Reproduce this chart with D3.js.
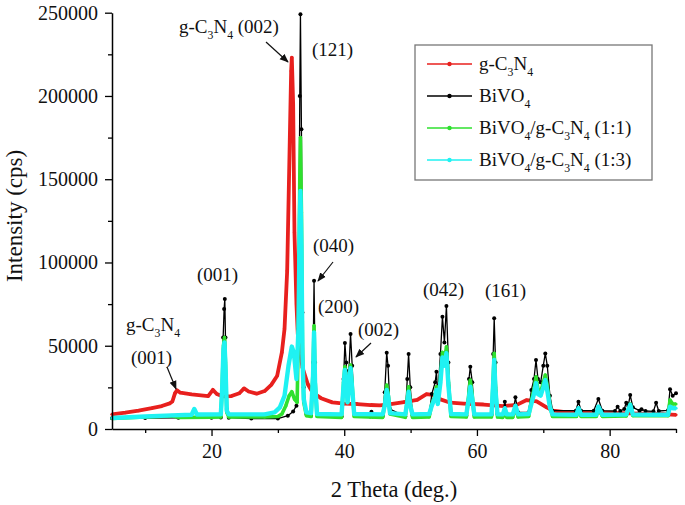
<!DOCTYPE html>
<html><head><meta charset="utf-8">
<script src="https://cdn.jsdelivr.net/npm/d3@7/dist/d3.min.js"></script>
<style>body{margin:0;background:#fff}</style>
</head><body>
<svg id="c" width="685" height="505"></svg>
<script>
const xDomain = [5, 90];
const yDomain = [0, 250000];
const xTicksMajor = [20, 40, 60, 80];
const xTicksMinor = [10, 30, 50, 70, 90];
const yTicksMajor = [0, 50000, 100000, 150000, 200000, 250000];
const yTicksMinor = [25000, 75000, 125000, 175000, 225000];
const seriesLabels = ["g-C_3N_4", "BiVO_4", "BiVO_4/g-C_3N_4 (1:1)", "BiVO_4/g-C_3N_4 (1:3)"];
const seriesColors = ["#e8201e", "#000000", "#2fe02f", "#1ff2f2"];

const gC3N4 = [[5,8800],[7,9800],[9,11000],[11,12500],[12.5,13800],[13.7,15400],[14.1,16500],[14.5,21500],[14.8,23200],[15.3,21800],[17,20800],[19.5,19800],[20.2,23500],[20.8,21000],[21.7,19600],[23,19800],[24.2,21500],[24.9,24400],[25.6,22500],[26.8,21200],[28.0,22800],[29.0,26500],[29.9,32000],[30.6,46000],[31.0,60000],[31.4,95000],[31.8,175000],[32.0,215000],[32.1,223000],[32.3,195000],[32.5,118000],[32.8,75000],[33.0,57000],[33.7,37000],[34.5,27000],[35.2,22000],[36.5,18500],[38.2,16000],[40,15200],[42,15000],[44,14400],[45.4,14200],[47,15000],[49,16200],[51,17500],[52.4,21000],[53.3,20500],[54.5,17800],[56,15800],[58,15300],[61,14700],[64,13800],[66,14500],[67.5,17400],[69,16600],[70.5,13000],[71.5,11000],[73,10300],[78,10000],[83,9400],[88,8900],[90,8500]];

const BiVO4 = [[5,6400],[10,6600],[15,6700],[20,6800],[21.4,6900],[21.6,20000],[21.75,55000],[21.9,72000],[22.0,78000],[22.1,55000],[22.3,12000],[22.6,6800],[26,6300],[30,6300],[31.5,8000],[32.3,10500],[32.8,14000],[33.1,60000],[33.3,200000],[33.4,249000],[33.55,180000],[33.7,70000],[33.9,25000],[34.3,9000],[35.0,8000],[35.3,40000],[35.45,89000],[35.6,40000],[35.9,9000],[39.6,7500],[39.9,30000],[40.1,51600],[40.3,40000],[40.5,20000],[40.7,35000],[40.95,57000],[41.2,38000],[41.5,9000],[43.9,7500],[44.1,10400],[44.3,7500],[45.8,8000],[46.1,22000],[46.4,45800],[46.6,38000],[46.9,12000],[49.2,7500],[49.5,30000],[49.7,45000],[49.95,25000],[50.3,8000],[52.8,8500],[53.2,21000],[53.7,28000],[53.9,34400],[54.1,20000],[54.5,45000],[54.8,67400],[55.1,52000],[55.4,73800],[55.7,40000],[56.1,9000],[58.4,8000],[58.8,30000],[59.0,37400],[59.3,28000],[59.6,8500],[62.2,8500],[62.45,45000],[62.6,66500],[62.8,40000],[63.1,9000],[63.9,8500],[64.2,16400],[64.5,9000],[65.4,9000],[65.8,19000],[66.2,10000],[67.8,10000],[68.2,23400],[68.6,30000],[68.9,41400],[69.2,30000],[69.6,28000],[70.0,38000],[70.3,45400],[70.6,38000],[71.0,20000],[71.4,11000],[74.9,11000],[75.3,16400],[75.7,11000],[77.6,11000],[78.3,18000],[78.9,11000],[80.8,10800],[81.2,13400],[81.6,10800],[82.2,12000],[82.5,15800],[82.8,14000],[83.1,20400],[83.5,13000],[84.5,11000],[84.8,11800],[85.4,10800],[86.6,10600],[87.0,15800],[87.4,10800],[88.8,11200],[89.1,23800],[89.5,20000],[90,21400]];

const BiVO4_gC3N4_11 = [[5,6300],[10,7200],[14,7900],[15,7000],[20,7100],[21.4,7200],[21.6,25000],[21.8,50000],[21.95,55000],[22.1,40000],[22.3,10000],[22.6,7200],[28,7200],[30.0,7500],[30.6,9000],[31.2,14000],[31.7,20000],[32.1,22400],[32.5,18000],[32.9,16000],[33.1,60000],[33.3,150000],[33.4,175000],[33.55,130000],[33.7,50000],[33.9,16000],[34.3,8000],[35.0,7500],[35.3,35000],[35.45,62000],[35.6,30000],[35.9,7500],[39.6,7000],[39.9,28000],[40.1,37400],[40.3,30000],[40.5,16000],[40.7,28000],[40.95,38400],[41.2,26000],[41.5,7500],[45.8,7000],[46.1,15000],[46.4,26400],[46.6,22000],[46.9,9000],[49.2,7000],[49.5,18000],[49.7,25400],[49.95,15000],[50.3,7000],[52.8,7200],[53.2,15000],[53.7,20000],[53.9,25400],[54.1,16000],[54.5,30000],[54.8,46000],[55.1,40000],[55.4,49400],[55.7,28000],[56.1,7500],[58.4,7200],[58.8,22000],[59.0,29400],[59.3,20000],[59.6,7200],[62.2,7200],[62.45,30000],[62.6,45400],[62.8,25000],[63.1,7200],[63.9,7000],[64.2,12000],[64.5,7000],[65.4,7000],[65.8,13500],[66.2,7200],[67.8,7500],[68.2,17000],[68.6,24000],[68.9,31400],[69.2,24000],[69.6,22000],[70.0,28000],[70.3,32400],[70.6,26000],[71.0,14000],[71.4,7500],[75,7500],[75.3,12000],[75.7,7500],[78,7600],[78.3,13000],[78.9,7600],[82.5,7800],[83.1,15000],[83.5,8000],[88.8,8000],[89.1,17400],[89.5,15000],[90,15000]];

const BiVO4_gC3N4_13 = [[5,6600],[10,7500],[14,8200],[17.0,8600],[17.4,12000],[17.8,8700],[21.4,8800],[21.6,24000],[21.8,48000],[21.95,52000],[22.1,38000],[22.3,11000],[22.6,8800],[28,8800],[29.5,10000],[30.3,13000],[31.0,20000],[31.6,38000],[32.1,49500],[32.4,46000],[32.8,30000],[33.1,60000],[33.3,125000],[33.4,143000],[33.55,110000],[33.7,45000],[33.9,18000],[34.3,10000],[35.0,9500],[35.3,32000],[35.45,58000],[35.6,28000],[35.9,9000],[39.6,8800],[39.9,26000],[40.1,35500],[40.3,28000],[40.5,16000],[40.7,26000],[40.95,36500],[41.2,24000],[41.5,9000],[45.8,8800],[46.1,14000],[46.4,23400],[46.6,20000],[46.9,9500],[49.2,8800],[49.5,16000],[49.7,22400],[49.95,14000],[50.3,8800],[52.8,9000],[53.2,14000],[53.7,19000],[53.9,23400],[54.1,15000],[54.5,28000],[54.8,43000],[55.1,38000],[55.4,45600],[55.7,26000],[56.1,9000],[58.4,8800],[58.8,19000],[59.0,25400],[59.3,18000],[59.6,8800],[62.2,8800],[62.45,28000],[62.6,41400],[62.8,23000],[63.1,8800],[63.9,8800],[64.2,12500],[64.5,8800],[65.4,8800],[65.8,14000],[66.2,8800],[67.8,9000],[68.2,15000],[68.6,21000],[68.9,27600],[69.2,21000],[69.6,20000],[70.0,25000],[70.3,29400],[70.6,23000],[71.0,13000],[71.4,8800],[75,8600],[75.3,12500],[75.7,8600],[78,8600],[78.3,13500],[78.9,8600],[82.5,8700],[83.1,14500],[83.5,8700],[88.8,8600],[89.1,13400],[89.5,12500],[90,12500]];

const seriesData = [gC3N4, BiVO4, BiVO4_gC3N4_11, BiVO4_gC3N4_13];
const seriesWidths = [3.8, 1.3, 3.6, 4.4];
const markerR = [1.6, 2.0, 1.6, 1.6];

const annotations = [
  {text: "g-C_3N_4 (002)", x: 179, y: 33, arrow: [266, 42, 288, 62]},
  {text: "(121)", x: 312, y: 56},
  {text: "(040)", x: 313, y: 252, arrow: [333, 262, 318, 281]},
  {text: "(200)", x: 318, y: 313},
  {text: "(002)", x: 358, y: 336, arrow: [371, 343, 356, 357]},
  {text: "(042)", x: 423, y: 296},
  {text: "(161)", x: 485, y: 297},
  {text: "(001)", x: 197, y: 281},
  {text: "g-C_3N_4", x: 126, y: 331},
  {text: "(001)", x: 131, y: 364, arrow: [167, 367, 176, 389]}
];

const FONT = "'Liberation Serif','Times New Roman',serif";
const svg = d3.select("#c");
const x = d3.scaleLinear().domain(xDomain).range([112, 676]);
const y = d3.scaleLinear().domain(yDomain).range([429, 12.7]);

function richText(sel, str, size) {
  let shift = 0;
  for (let i = 0; i < str.length; i++) {
    let ch = str[i];
    let sub = false;
    if (ch === "_") { sub = true; i++; ch = str[i]; }
    const want = sub ? size * 0.32 : 0;
    sel.append("tspan")
      .attr("dy", want - shift)
      .attr("font-size", sub ? size * 0.62 : size)
      .text(ch);
    shift = want;
  }
}

// data
const line = d3.line().x(d => x(d[0])).y(d => y(d[1]));
[0, 1, 2, 3].forEach(i => {
  const g = svg.append("g");
  g.append("path").datum(seriesData[i])
    .attr("fill", "none").attr("stroke", seriesColors[i])
    .attr("stroke-width", seriesWidths[i]).attr("stroke-linejoin", "round")
    .attr("d", line);
  g.selectAll("circle").data(seriesData[i]).join("circle")
    .attr("cx", d => x(d[0])).attr("cy", d => y(d[1]))
    .attr("r", markerR[i]).attr("fill", seriesColors[i]);
});

// axes
const xAxisG = svg.append("g").attr("transform", `translate(0,${y(0)})`);
xAxisG.call(d3.axisBottom(x).tickValues(xTicksMajor).tickSize(7).tickSizeOuter(0).tickFormat(d3.format("d")));
xAxisG.append("g").call(d3.axisBottom(x).tickValues(xTicksMinor).tickSize(4).tickFormat("")).select(".domain").remove();
const yAxisG = svg.append("g").attr("transform", `translate(${x(5)},0)`);
yAxisG.call(d3.axisLeft(y).tickValues(yTicksMajor).tickSize(7).tickSizeOuter(0).tickFormat(d3.format("d")));
yAxisG.append("g").call(d3.axisLeft(y).tickValues(yTicksMinor).tickSize(4).tickFormat("")).select(".domain").remove();
svg.selectAll(".domain").attr("stroke-width", 1.5);
svg.selectAll(".tick line").attr("stroke-width", 1.3);
svg.selectAll(".tick text").attr("font-family", FONT).attr("font-size", 20).attr("fill", "#111");
xAxisG.selectAll(".tick text").attr("dy", "0.95em");
yAxisG.selectAll(".tick text").attr("dx", "-0.2em");

svg.append("text").attr("x", 394).attr("y", 497).attr("text-anchor", "middle")
  .attr("font-family", FONT).attr("font-size", 22.5).attr("fill", "#111").text("2 Theta (deg.)");
svg.append("text").attr("transform", "translate(22,216) rotate(-90)").attr("text-anchor", "middle")
  .attr("font-family", FONT).attr("font-size", 23).attr("fill", "#111").text("Intensity (cps)");

// annotations
svg.append("defs").append("marker").attr("id", "ah").attr("viewBox", "0 0 10 10")
  .attr("refX", 9).attr("refY", 5).attr("markerWidth", 9).attr("markerHeight", 9)
  .attr("markerUnits", "userSpaceOnUse").attr("orient", "auto")
  .append("path").attr("d", "M0,1 L10,5 L0,9 Z").attr("fill", "#111");
annotations.forEach(a => {
  const t = svg.append("text").attr("x", a.x).attr("y", a.y)
    .attr("font-family", FONT).attr("fill", "#111").attr("font-size", 19);
  richText(t, a.text, 19);
  if (a.arrow) {
    svg.append("line").attr("x1", a.arrow[0]).attr("y1", a.arrow[1])
      .attr("x2", a.arrow[2]).attr("y2", a.arrow[3])
      .attr("stroke", "#111").attr("stroke-width", 1.2).attr("marker-end", "url(#ah)");
  }
});

// legend
const lg = svg.append("g");
lg.append("rect").attr("x", 415).attr("y", 45).attr("width", 237).attr("height", 135)
  .attr("fill", "#fff").attr("stroke", "#777").attr("stroke-width", 1.3);
seriesLabels.forEach((lab, i) => {
  const yy = 64 + i * 32;
  lg.append("line").attr("x1", 427).attr("x2", 472).attr("y1", yy).attr("y2", yy)
    .attr("stroke", seriesColors[i]).attr("stroke-width", 1.3);
  lg.append("circle").attr("cx", 449.5).attr("cy", yy).attr("r", 2.2).attr("fill", seriesColors[i]);
  const t = lg.append("text").attr("x", 479).attr("y", yy + 6)
    .attr("font-family", FONT).attr("fill", "#111").attr("font-size", 19);
  richText(t, lab, 19);
});
</script>
</body></html>
